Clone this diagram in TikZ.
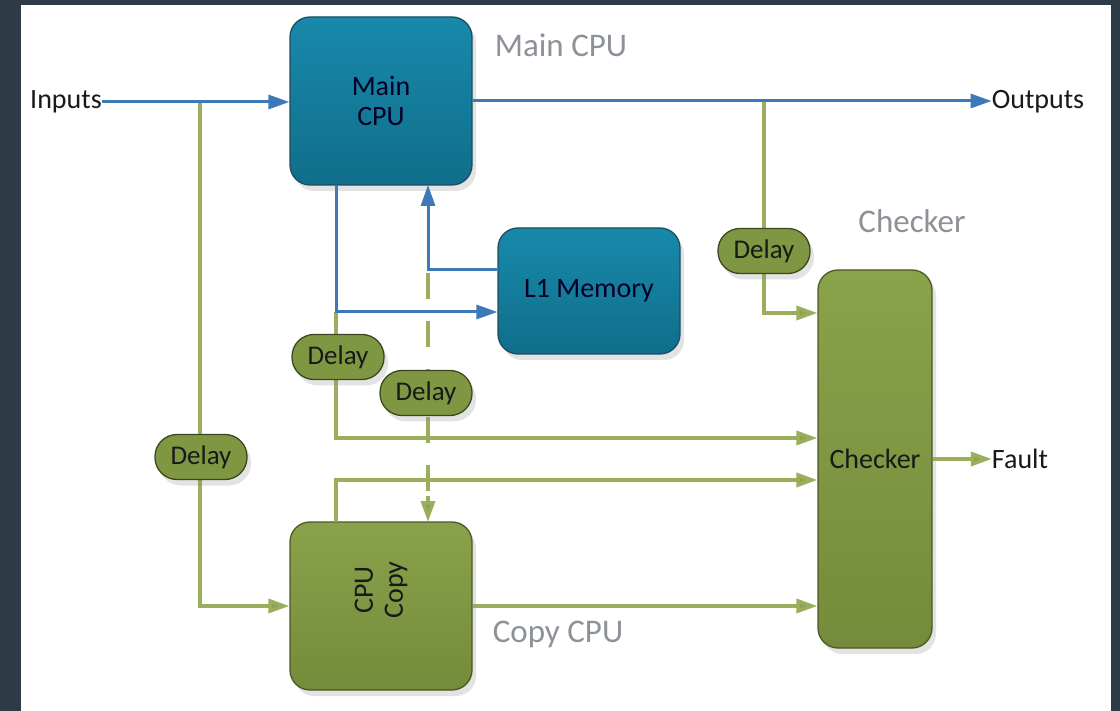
\documentclass[tikz,border=0pt]{standalone}
\usepackage{fontspec}
\setmainfont{Carlito}
\usetikzlibrary{arrows.meta,shadows,calc}
\definecolor{frame}{HTML}{2E3A46}
\definecolor{bluel}{HTML}{3C79B6}
\definecolor{greenl}{HTML}{9BAE5C}
\definecolor{greena}{HTML}{8DA24D}
\definecolor{tealtop}{HTML}{1889AB}
\definecolor{tealbot}{HTML}{106E8A}
\definecolor{tealbd}{HTML}{1D4D60}
\definecolor{olivetop}{HTML}{8AA24A}
\definecolor{olivebot}{HTML}{748B3B}
\definecolor{olivebd}{HTML}{4A5A26}
\definecolor{delayfill}{HTML}{7F9742}
\definecolor{delaybd}{HTML}{3B481E}
\definecolor{graylab}{HTML}{8C9298}
\tikzset{
  shad/.style={drop shadow={opacity=0.22,shadow xshift=4pt,shadow yshift=-6pt}},
  bluebox/.style={draw=tealbd,line width=1.3pt,rounded corners=20pt,top color=tealtop,bottom color=tealbot,shad,
    font=\fontsize{28}{30}\selectfont,text=black!85!blue,align=center,inner sep=0pt},
  greenbox/.style={draw=olivebd,line width=1.3pt,rounded corners=20pt,top color=olivetop,bottom color=olivebot,shad,
    font=\fontsize{28}{30}\selectfont,text=black!90,align=center,inner sep=0pt},
  delaybox/.style={draw=delaybd,line width=1.3pt,rounded corners=22pt,fill=delayfill,shad,
    minimum width=92pt,minimum height=45pt,font=\fontsize{27}{29}\selectfont,text=black!90,inner sep=0pt},
  lab/.style={font=\fontsize{28}{30}\selectfont,text=black!90,inner sep=0pt},
  glab/.style={font=\fontsize{33}{35}\selectfont,text=graylab,inner sep=0pt},
  bline/.style={draw=bluel,line width=3pt},
  gline/.style={draw=greenl,line width=3.6pt},
  barrow/.style={bline,-{Triangle[length=21pt,width=14pt,fill=bluel]}},
  garrow/.style={gline,-{Triangle[length=21pt,width=14pt,fill=greena]}},
}
\begin{document}
\begin{tikzpicture}[x=1pt,y=-1pt]
\useasboundingbox (0,0) rectangle (1120,711);
\fill[frame] (0,0) rectangle (1120,711);
\fill[white] (21,5) rectangle (1111,711);

% boxes
\node[bluebox,minimum width=182pt,minimum height=168pt] (main) at (381,101) {Main\\CPU};
\node[bluebox,minimum width=182pt,minimum height=126pt] (mem) at (589,291) {L1 Memory};
\node[greenbox,minimum width=182pt,minimum height=168pt] (copy) at (381,606) {};
\node[greenbox,minimum width=114pt,minimum height=378pt] (chk) at (875,459) {Checker};
\node[font=\fontsize{28}{30}\selectfont,text=black!90,align=center,rotate=90] (copytxt) at (381,590) {CPU\\Copy};

% texts
\node[lab] (inputs) at (66,102) {Inputs};
\node[lab] (outputs) at (1038,102) {Outputs};
\node[lab] (fault) at (1020,459) {Fault};
\node[glab] (lmain) at (561,45) {Main CPU};
\node[glab] (lchk) at (912,221) {Checker};
\node[glab] (lcopy) at (558,634) {Copy CPU};

% branch coordinates
\coordinate (b1) at (200,101);
\coordinate (b2) at (764,101);
\coordinate (m1) at (336,185);
\coordinate (m2) at (336,312);
\coordinate (m3) at (336,438);
\coordinate (r1) at (428,270);
\coordinate (r2) at (428,185);
\coordinate (c1) at (336,522);
\coordinate (c2) at (428,522);
\coordinate (c3) at (336,480);
\coordinate (b3) at (764,313);

% green lines (behind delays)
\draw[garrow] (b1) |- (copy.west);
\draw[garrow] (m2) |- (m3 -| chk.west);
\draw[gline,dash pattern=on 26pt off 22pt,dash phase=-3pt] (r1) -- (428,500);
\draw[garrow,dash pattern=on 26pt off 22pt] (428,496) -- (c2);
\draw[garrow] (c1) |- (c3 -| chk.west);
\draw[garrow] (copy.east) -- (copy.east -| chk.west);
\draw[garrow] (b2) |- (b3 -| chk.west);
\draw[garrow] (chk.east) -- (fault.west);

% blue lines
\draw[barrow] (inputs.east) -- (inputs.east -| main.west);
\draw[barrow] (main.east) -- (main.east -| outputs.west);
\draw[barrow] (m1) |- (m2 -| mem.west);
\draw[barrow] (r1 -| mem.west) -| (r2);

% delays
\node[delaybox] (d1) at (201,457) {Delay};
\node[delaybox] (d2) at (338,357) {Delay};
\node[delaybox] (d3) at (426,393) {Delay};
\node[delaybox] (d4) at (764,251) {Delay};
\end{tikzpicture}
\end{document}
